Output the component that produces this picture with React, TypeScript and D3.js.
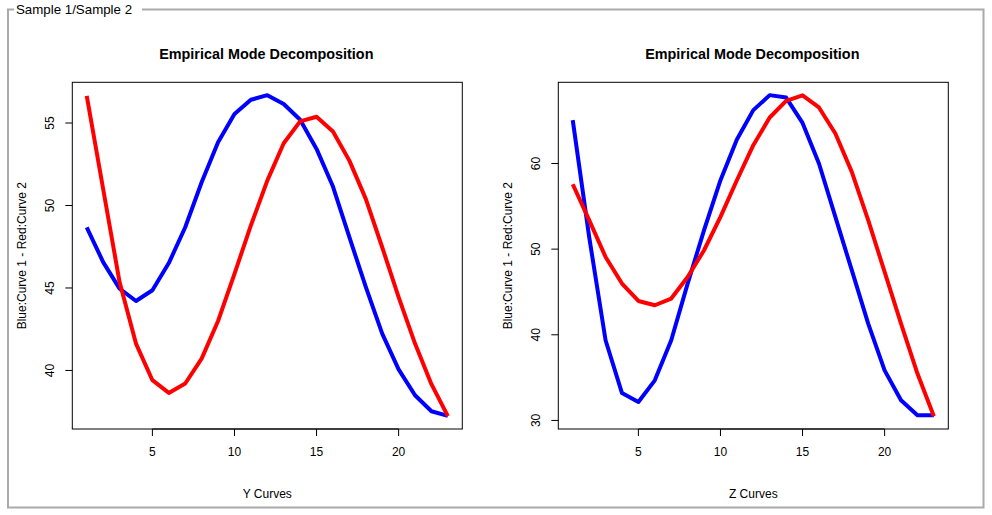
import React from "react";
import * as d3 from "d3";

const xIdx = d3.range(1, 24);
const yBlue = [48.68, 46.57, 44.96, 44.21, 44.86, 46.51, 48.68, 51.41, 53.83, 55.54, 56.41, 56.69, 56.15, 55.2, 53.43, 51.15, 48.08, 45.06, 42.23, 40.07, 38.5, 37.53, 37.25];
const yRed = [56.64, 51.0, 45.36, 41.63, 39.41, 38.64, 39.21, 40.72, 43.0, 45.86, 48.79, 51.51, 53.77, 55.1, 55.38, 54.49, 52.72, 50.4, 47.47, 44.45, 41.63, 39.17, 37.23];
const zBlue = [65.06, 51.43, 39.36, 33.2, 32.15, 34.68, 39.36, 45.98, 52.21, 58.05, 62.8, 66.23, 67.98, 67.7, 64.74, 60.0, 53.76, 47.54, 41.31, 35.85, 32.35, 30.6, 30.6];
const zRed = [57.58, 53.38, 49.09, 45.98, 43.95, 43.45, 44.23, 46.75, 49.87, 53.76, 58.05, 62.14, 65.37, 67.31, 67.96, 66.54, 63.5, 59.02, 53.38, 47.34, 41.31, 35.47, 30.5];
const xTicks = [5, 10, 15, 20];
const yTicksLeft = [40, 45, 50, 55];
const yTicksRight = [30, 40, 50, 60];

const FONT = "'Liberation Sans', Arial, sans-serif";

function Panel({ left, right, blue, red, ticks, xlabel, ylabX, tickLabX }: any) {
  const top = 82.3, bottom = 429;
  const all = blue.concat(red);
  const [mn, mx] = d3.extent(all) as [number, number];
  const ext = (mx - mn) * 0.04;
  const x = d3.scaleLinear().domain([1 - 22 * 0.04, 23 + 22 * 0.04]).range([left, right]);
  const y = d3.scaleLinear().domain([mn - ext, mx + ext]).range([bottom, top]);
  const line = d3.line<number>().x((_, i) => x(xIdx[i])).y((d) => y(d));
  const cx = (left + right) / 2;
  const cy = (top + bottom) / 2;
  return (
    <g fontFamily={FONT}>
      <text x={cx - 1} y={59} textAnchor="middle" fontWeight="bold" fontSize={14.4}>Empirical Mode Decomposition</text>
      <path d={line(blue) || ""} fill="none" stroke="#0000ff" strokeWidth={4} strokeLinejoin="round" />
      <path d={line(red) || ""} fill="none" stroke="#ff0000" strokeWidth={4} strokeLinejoin="round" />
      <rect x={left} y={top} width={right - left} height={bottom - top} fill="none" stroke="#000" strokeWidth={1} />
      <line x1={x(xTicks[0])} x2={x(xTicks[xTicks.length - 1])} y1={bottom} y2={bottom} stroke="#000" />
      {xTicks.map((t) => (
        <g key={t}>
          <line x1={x(t)} x2={x(t)} y1={bottom} y2={bottom + 7} stroke="#000" />
          <text x={x(t)} y={456} textAnchor="middle" fontSize={12}>{t}</text>
        </g>
      ))}
      {ticks.map((t: number) => (
        <g key={t}>
          <line x1={left - 7} x2={left} y1={y(t)} y2={y(t)} stroke="#000" />
          <text transform={`translate(${tickLabX},${y(t)}) rotate(-90)`} textAnchor="middle" fontSize={12}>{t}</text>
        </g>
      ))}
      <text x={cx} y={498} textAnchor="middle" fontSize={12}>{xlabel}</text>
      <text transform={`translate(${ylabX},${cy}) rotate(-90)`} textAnchor="middle" fontSize={12}>Blue:Curve 1 - Red:Curve 2</text>
    </g>
  );
}

export default function App() {
  return (
    <svg width={992} height={515} style={{ position: "absolute", left: 0, top: 0, background: "#fff" }}>
      <rect x={0} y={0} width={992} height={515} fill="#fff" />
      <path d="M14,9.5 L8,9.5 L8,507.5 L983.5,507.5 L983.5,9.5 L142,9.5" fill="none" stroke="#aaaaaa" strokeWidth={2} />
      <text x={16} y={13.5} fontFamily={FONT} fontSize={13.3}>Sample 1/Sample 2</text>
      <Panel left={72.3} right={462.3} blue={yBlue} red={yRed} ticks={yTicksLeft} xlabel="Y Curves" ylabX={26} tickLabX={54} />
      <Panel left={558.3} right={948.3} blue={zBlue} red={zRed} ticks={yTicksRight} xlabel="Z Curves" ylabX={512} tickLabX={540} />
    </svg>
  );
}
